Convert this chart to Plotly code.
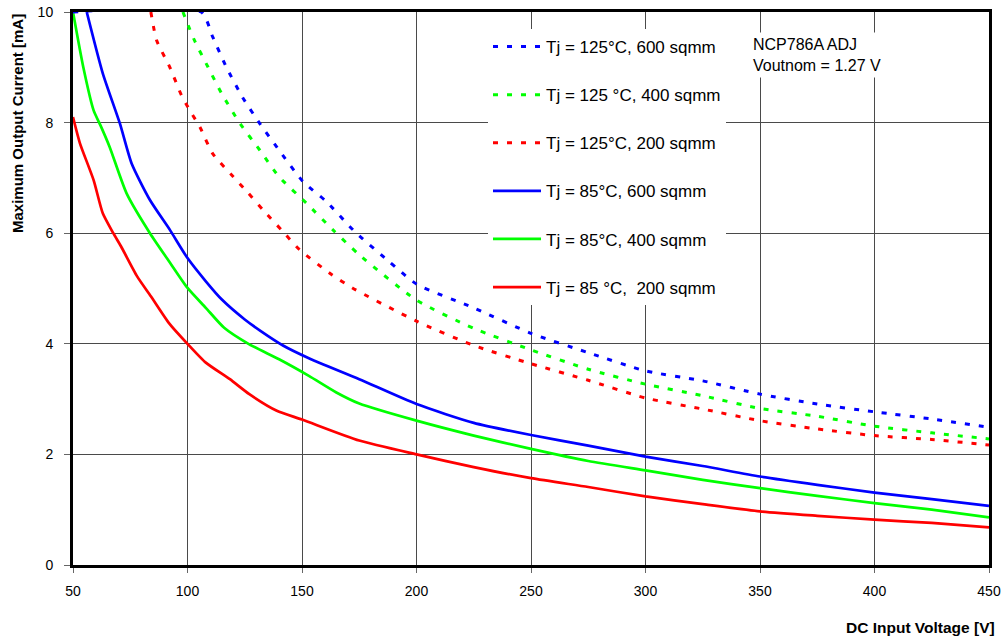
import plotly.graph_objects as go

# ---- data ----
x_85_200 = [50, 53, 59, 63, 67.6, 71, 78, 84, 92, 100, 108, 118.5, 127, 139, 150, 175, 200, 225, 250, 275, 300, 325, 350, 375, 400, 425, 450]
y_85_200 = [8.1, 7.63, 6.96, 6.36, 6.0, 5.76, 5.22, 4.86, 4.37, 4.0, 3.66, 3.36, 3.09, 2.79, 2.63, 2.25, 2.0, 1.77, 1.57, 1.41, 1.24, 1.10, 0.97, 0.89, 0.82, 0.76, 0.68]

x_85_400 = [50, 54.5, 59, 62, 66, 73.4, 83.6, 92.3, 100, 108, 116, 127, 140, 153, 165, 175, 200, 225, 250, 275, 300, 325, 350, 375, 400, 425, 450]
y_85_400 = [10, 9.0, 8.22, 7.95, 7.56, 6.72, 6.0, 5.47, 5.01, 4.65, 4.29, 3.99, 3.72, 3.42, 3.12, 2.92, 2.61, 2.34, 2.10, 1.88, 1.71, 1.54, 1.39, 1.25, 1.12, 1.0, 0.86]

x_85_600 = [56, 63, 70.5, 75.6, 83.6, 92.3, 100, 108, 115, 125, 132, 141.7, 153, 175, 200, 225, 250, 275, 300, 325, 350, 375, 400, 425, 450]
y_85_600 = [10, 8.89, 7.98, 7.26, 6.6, 6.06, 5.55, 5.13, 4.80, 4.44, 4.23, 3.97, 3.74, 3.36, 2.91, 2.57, 2.35, 2.16, 1.96, 1.79, 1.60, 1.45, 1.31, 1.19, 1.07]

x_125_600 = [50, 106, 111, 117, 124, 131.6, 140, 150.5, 160.7, 173, 188, 200, 225, 250, 275, 300, 325, 350, 375, 400, 425, 450]
y_125_600 = [10, 10, 9.55, 9.0, 8.46, 7.98, 7.5, 6.93, 6.57, 6.03, 5.49, 5.08, 4.65, 4.19, 3.84, 3.51, 3.33, 3.09, 2.91, 2.77, 2.64, 2.49]

x_125_400 = [98, 103, 109, 115, 123, 131.6, 140, 152, 163.5, 175, 200, 225, 250, 275, 300, 325, 350, 375, 400, 425, 450]
y_125_400 = [10, 9.49, 9.0, 8.52, 7.98, 7.5, 7.02, 6.54, 6.06, 5.61, 4.79, 4.28, 3.89, 3.54, 3.27, 3.06, 2.83, 2.69, 2.51, 2.39, 2.28]

x_125_200 = [84, 86.5, 92.3, 97.4, 101, 105.4, 111, 120, 126, 133, 141, 149, 162, 172, 200, 225, 250, 275, 300, 325, 350, 375, 400, 425, 450]
y_125_200 = [10, 9.49, 9.0, 8.49, 8.22, 7.92, 7.44, 7.02, 6.75, 6.42, 6.06, 5.7, 5.28, 5.01, 4.41, 3.97, 3.64, 3.34, 3.02, 2.82, 2.61, 2.46, 2.34, 2.27, 2.17]

x_ticks = [50, 100, 150, 200, 250, 300, 350, 400, 450]
y_ticks = [0, 2, 4, 6, 8, 10]

FONT = "Liberation Sans, Arial, sans-serif"
BLUE, GREEN, RED = "#0000FF", "#00FF00", "#FF0000"
DASH = "5px,9px"

# (name, x, y, color, dash, legend rank); drawn in this order
series = [
    ("Tj = 85 °C,  200 sqmm", x_85_200, y_85_200, RED, "solid", 6),
    ("Tj = 85°C, 400 sqmm", x_85_400, y_85_400, GREEN, "solid", 5),
    ("Tj = 85°C, 600 sqmm", x_85_600, y_85_600, BLUE, "solid", 4),
    ("Tj = 125°C, 200 sqmm", x_125_200, y_125_200, RED, DASH, 3),
    ("Tj = 125 °C, 400 sqmm", x_125_400, y_125_400, GREEN, DASH, 2),
    ("Tj = 125°C, 600 sqmm", x_125_600, y_125_600, BLUE, DASH, 1),
]

fig = go.Figure()
for name, xs, ys, col, dash, rank in series:
    fig.add_trace(go.Scatter(
        x=xs, y=ys, mode="lines", name=name,
        line=dict(color=col, width=3 if dash != "solid" else 2.7, dash=dash,
                  shape="spline", smoothing=0.6),
        legendgroup=name, legendrank=rank,
    ))

L, R, T, B = 73, 17, 12, 71
PW = 1006 - L - R
PH = 636 - T - B


def px_x(px):
    return (px - L) / PW


def px_y(py):
    return (636 - B - py) / PH


fig.update_layout(
    width=1006, height=636,
    margin=dict(l=L, r=R, t=T, b=B, autoexpand=False),
    paper_bgcolor="white", plot_bgcolor="white",
    font=dict(family=FONT, size=14, color="black"),
    showlegend=True,
    legend=dict(
        x=px_x(488), y=px_y(29), xanchor="left", yanchor="top",
        bgcolor="white", borderwidth=0,
        traceorder="grouped", tracegroupgap=23,
        font=dict(family=FONT, size=17, color="black"),
        itemwidth=48,
    ),
    xaxis=dict(
        range=[50, 450], tickvals=x_ticks, ticktext=[str(v) for v in x_ticks],
        showgrid=True, gridcolor="#4a4a4a", gridwidth=1,
        showline=True, linecolor="black", linewidth=3, mirror=True,
        ticks="outside", ticklen=5, tickcolor="#666", ticklabelstandoff=6,
        zeroline=False, tickfont=dict(size=14), automargin=False,
    ),
    yaxis=dict(
        range=[0, 10], tickvals=y_ticks, ticktext=[str(v) for v in y_ticks],
        showgrid=True, gridcolor="#4a4a4a", gridwidth=1,
        showline=True, linecolor="black", linewidth=3, mirror=True,
        ticks="outside", ticklen=6, tickcolor="#666", ticklabelstandoff=8,
        zeroline=False, tickfont=dict(size=14), automargin=False,
    ),
    annotations=[
        dict(text="<b>Maximum Output Current [mA]</b>", textangle=-90,
             xref="paper", yref="paper", x=px_x(18), y=px_y(124),
             xanchor="center", yanchor="middle", showarrow=False,
             font=dict(family=FONT, size=15)),
        dict(text="<b>DC Input Voltage [V]</b>",
             xref="paper", yref="paper", x=px_x(997), y=px_y(627),
             xanchor="right", yanchor="middle", showarrow=False,
             font=dict(family=FONT, size=15.5)),
        dict(text="NCP786A ADJ<br>Voutnom = 1.27 V", align="left",
             xref="paper", yref="paper", x=px_x(749), y=px_y(32),
             xanchor="left", yanchor="top", showarrow=False,
             bgcolor="white", borderpad=3,
             font=dict(family=FONT, size=16)),
    ],
)

fig.write_html("out.html")
